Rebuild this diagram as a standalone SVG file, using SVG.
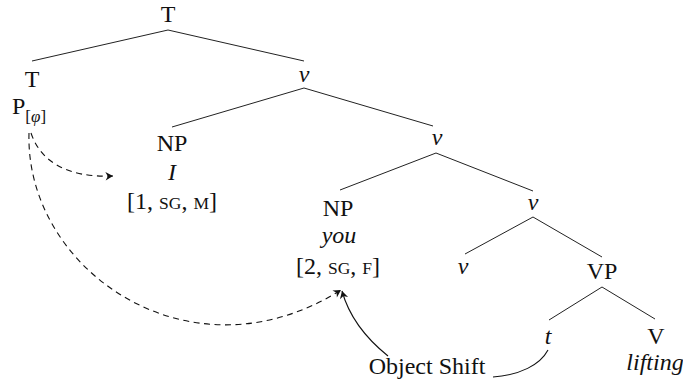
<svg xmlns="http://www.w3.org/2000/svg" width="683" height="387" viewBox="0 0 683 387">
<defs>
<style>
text{font-family:"Liberation Serif","DejaVu Serif",serif;font-size:24px;fill:#111;}
.m{text-anchor:middle;}
.i{font-style:italic;}
.sc{font-size:17.5px;}
.edge{stroke:#222;stroke-width:1;fill:none;}
.dash{stroke:#111;stroke-width:1.1;fill:none;stroke-dasharray:6,4.5;}
.solid{stroke:#111;stroke-width:1.1;fill:none;}
</style>
<marker id="ah" markerWidth="12" markerHeight="10" refX="8" refY="5" orient="auto" markerUnits="userSpaceOnUse">
<path d="M8,5 L0.5,0.8 L2.8,5 L0.5,9.2 Z" fill="#111"/>
</marker>
</defs>
<rect width="683" height="387" fill="#fff"/>
<g id="connectors">
<line class="edge" x1="168" y1="30" x2="32" y2="61"/>
<line class="edge" x1="168" y1="30" x2="304" y2="61"/>
<line class="edge" x1="304" y1="88" x2="172" y2="127"/>
<line class="edge" x1="304" y1="88" x2="433" y2="126"/>
<line class="edge" x1="436" y1="153" x2="340" y2="190"/>
<line class="edge" x1="436" y1="153" x2="533" y2="191"/>
<line class="edge" x1="533" y1="217" x2="465" y2="254"/>
<line class="edge" x1="533" y1="217" x2="602" y2="257"/>
<line class="edge" x1="602" y1="287" x2="549" y2="320"/>
<line class="edge" x1="602" y1="287" x2="655" y2="319"/>
<path class="dash" d="M31,133 C40,160 65,178 113,176" marker-end="url(#ah)"/>
<path class="dash" d="M29,133 C25,270 190,385 341,290" marker-end="url(#ah)"/>
<path class="solid" d="M388,356 Q352,327 342,291" marker-end="url(#ah)"/>
<path class="solid" d="M493,377 C520,375 540,365 548,350"/>
</g>
<g id="T-root"><text class="m" x="168" y="22">T</text></g>
<g id="T"><text class="m" x="32" y="87">T</text><text x="12" y="114">P<tspan font-size="17" dy="8">[<tspan class="i">φ</tspan>]</tspan></text></g>
<g id="v1"><text class="m i" x="304" y="82">v</text></g>
<g id="NP-I"><text class="m" x="172" y="151">NP</text><text class="m i" x="172" y="180">I</text><text class="m" x="172" y="209">[1, <tspan class="sc">SG</tspan>, <tspan class="sc">M</tspan>]</text></g>
<g id="v2"><text class="m i" x="437" y="145">v</text></g>
<g id="NP-you"><text class="m" x="338" y="216">NP</text><text class="m i" x="339" y="243">you</text><text class="m" x="338" y="274">[2, <tspan class="sc">SG</tspan>, <tspan class="sc">F</tspan>]</text></g>
<g id="v3"><text class="m i" x="533" y="210">v</text></g>
<g id="v4"><text class="m i" x="463" y="274">v</text></g>
<g id="VP"><text class="m" x="602" y="279">VP</text></g>
<g id="t"><text class="m i" x="548" y="344">t</text></g>
<g id="V"><text class="m" x="656" y="344">V</text><text class="m i" x="655" y="370">lifting</text></g>
<g id="object-shift"><text class="m" x="427" y="374">Object Shift</text></g>
</svg>
